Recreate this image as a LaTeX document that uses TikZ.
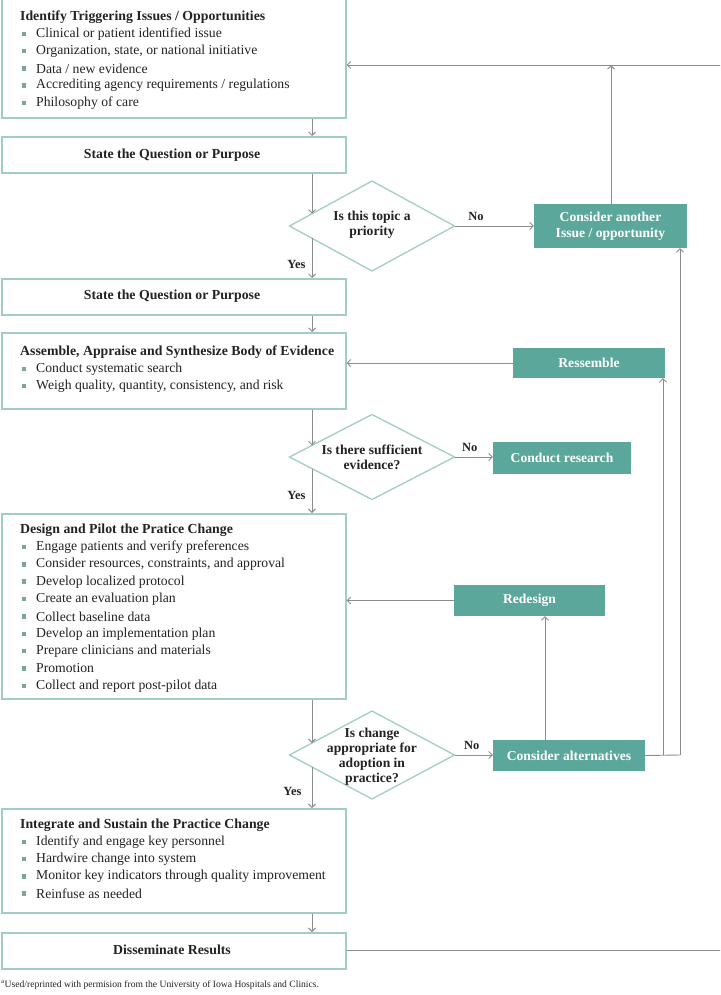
\documentclass[tikz,border=0pt]{standalone}
\usepackage{fontspec}
\setmainfont{Liberation Serif}
\usetikzlibrary{arrows.meta,shapes.geometric}
\definecolor{tealf}{RGB}{92,167,155}
\definecolor{edgec}{RGB}{160,206,199}
\definecolor{connc}{RGB}{140,140,140}
\definecolor{bulc}{RGB}{125,165,155}
\definecolor{txtc}{RGB}{35,35,35}
\begin{document}
\begin{tikzpicture}[x=1pt,y=-1pt,
 wbox/.style={draw=edgec, line width=1.6pt, fill=white},
 tbox/.style={fill=tealf, text=white, font=\fontsize{13.6}{15.5}\selectfont\bfseries, align=center, inner sep=0pt},
 dia/.style={draw=edgec, line width=1.3pt, fill=white},
 dtext/.style={font=\fontsize{13.6}{15}\selectfont\bfseries, text=txtc, align=center, inner sep=0pt},
 ttl/.style={anchor=west, font=\fontsize{13.8}{15}\selectfont\bfseries, text=txtc, inner sep=0pt},
 ctl/.style={font=\fontsize{13.8}{15}\selectfont\bfseries, text=txtc, inner sep=0pt},
 itm/.style={anchor=west, font=\fontsize{13.7}{15}\selectfont, text=txtc, inner sep=0pt},
 bul/.style={fill=bulc, minimum size=4.5pt, inner sep=0pt},
 arr/.style={draw=connc, line width=0.9pt, -{Straight Barb[length=3.5pt,width=7pt]}},
 ln/.style={draw=connc, line width=0.9pt},
 lab/.style={font=\fontsize{12.5}{14}\selectfont\bfseries, text=txtc, inner sep=0pt}
]
\path[use as bounding box] (0,0) rectangle (720,995);
\clip (0,0) rectangle (720,995);

% ---------- white boxes ----------
\node[wbox, minimum width=344pt, minimum height=127pt, anchor=north west] (b1) at (1,-10) {};
\node[wbox, minimum width=344pt, minimum height=36pt, anchor=north west] (s1) at (1,136) {};
\node[wbox, minimum width=344pt, minimum height=36pt, anchor=north west] (s2) at (1,278) {};
\node[wbox, minimum width=344pt, minimum height=76pt, anchor=north west] (as) at (1,332) {};
\node[wbox, minimum width=344pt, minimum height=185pt, anchor=north west] (ds) at (1,513) {};
\node[wbox, minimum width=344pt, minimum height=104pt, anchor=north west] (ig) at (1,808) {};
\node[wbox, minimum width=344pt, minimum height=36pt, anchor=north west] (dr) at (1,932) {};

% ---------- box texts ----------
\node[ttl] (b1t) at (20,17) {Identify Triggering Issues / Opportunities};
\foreach \t [count=\i] in {Clinical or patient identified issue,{Organization, state, or national initiative},Data / new evidence,Accrediting agency requirements / regulations,Philosophy of care}{
  \node[bul] (b1b\i) at (24,{34+17.2*(\i-1)}) {};
  \node[itm] (b1i\i) at (36,{34+17.2*(\i-1)}) {\t};
}
\node[ctl] (s1t) at (172,155) {State the Question or Purpose};
\node[ctl] (s2t) at (172,296) {State the Question or Purpose};

\node[ttl] (ast) at (20,352) {Assemble, Appraise and Synthesize Body of Evidence};
\foreach \t [count=\i] in {Conduct systematic search,{Weigh quality, quantity, consistency, and risk}}{
  \node[bul] (asb\i) at (24,{369+17.2*(\i-1)}) {};
  \node[itm] (asi\i) at (36,{369+17.2*(\i-1)}) {\t};
}

\node[ttl] (dst) at (20,530) {Design and Pilot the Pratice Change};
\foreach \t [count=\i] in {Engage patients and verify preferences,{Consider resources, constraints, and approval},Develop localized protocol,Create an evaluation plan,Collect baseline data,Develop an implementation plan,Prepare clinicians and materials,Promotion,Collect and report post-pilot data}{
  \node[bul] (dsb\i) at (24,{547+17.35*(\i-1)}) {};
  \node[itm] (dsi\i) at (36,{547+17.35*(\i-1)}) {\t};
}

\node[ttl] (igt) at (20,825) {Integrate and Sustain the Practice Change};
\foreach \t [count=\i] in {Identify and engage key personnel,Hardwire change into system,Monitor key indicators through quality improvement,Reinfuse as needed}{
  \node[bul] (igb\i) at (24,{842+17.2*(\i-1)}) {};
  \node[itm] (igi\i) at (36,{842+17.2*(\i-1)}) {\t};
}
\node[ctl] (drt) at (172,950) {Disseminate Results};

% ---------- diamonds ----------
\draw[dia] (289.5,226) -- (372,181) -- (454.5,226) -- (372,271) -- cycle;
\node[dtext] (d1) at (372,225) {Is this topic a\\priority};
\draw[dia] (289.5,457) -- (372,414.5) -- (454.5,457) -- (372,499.5) -- cycle;
\node[dtext] (d2) at (372,457) {Is there sufficient\\evidence?};
\draw[dia] (289.5,755) -- (372,711) -- (454.5,755) -- (372,799) -- cycle;
\node[dtext] (d3) at (372,757) {Is change\\appropriate for\\adoption in\\practice?};

\coordinate (d1n) at (312,213.7); \coordinate (d1s) at (312,238.3);
\coordinate (d1e) at (454.5,226);
\coordinate (d2n) at (312,445.4); \coordinate (d2s) at (312,468.6);
\coordinate (d2e) at (454.5,457);
\coordinate (d3n) at (312,743); \coordinate (d3s) at (312,767);
\coordinate (d3e) at (454.5,755);

% ---------- teal boxes ----------
\node[tbox, minimum width=153pt, minimum height=44pt] (ca) at (610.5,226) {Consider another\\Issue / opportunity};
\node[tbox, minimum width=152pt, minimum height=30pt] (rs) at (589,363) {Ressemble};
\node[tbox, minimum width=138pt, minimum height=32pt] (cr) at (562,458) {Conduct research};
\node[tbox, minimum width=151pt, minimum height=31pt] (rd) at (529.5,600.5) {Redesign};
\node[tbox, minimum width=152pt, minimum height=31pt] (cal) at (569,755.5) {Consider alternatives};

% ---------- main spine ----------
\draw[arr] (b1.south -| d1n) -- (s1.north -| d1n);
\draw[arr] (s1.south -| d1n) -- (d1n);
\draw[arr] (d1s) -- (s2.north -| d1s) node[lab, pos=0.65, left=6pt] (y1) {Yes};
\draw[arr] (s2.south -| d1n) -- (as.north -| d1n);
\draw[arr] (as.south -| d2n) -- (d2n);
\draw[arr] (d2s) -- (ds.north -| d2s) node[lab, pos=0.6, left=6pt] (y2) {Yes};
\draw[arr] (ds.south -| d3n) -- (d3n);
\draw[arr] (d3s) -- (ig.north -| d3s) node[lab, pos=0.6, left=10pt] (y3) {Yes};
\draw[arr] (ig.south -| d3n) -- (dr.north -| d3n);

% ---------- No branches ----------
\draw[arr] (d1e) -- (d1e -| ca.west) node[lab, pos=0.27, above=5pt] (n1) {No};
\draw[arr] (d2e) -- (d2e -| cr.west) node[lab, pos=0.4, above=5pt] (n2) {No};
\draw[arr] (d3e) -- (d3e -| cal.west) node[lab, pos=0.45, above=5pt] (n3) {No};

% ---------- feedback loops ----------
\coordinate (topl) at (611,65);
\coordinate (farR) at (735,65);
\draw[arr] (ca.north -| topl) -- (topl);
\draw[arr] (dr.east) -- (dr.east -| farR) -- (farR) -- (farR -| b1.east);
\draw[arr] (rs.west) -- (rs.west -| as.east);
\draw[arr] (rd.west) -- (rd.west -| ds.east);
\draw[arr] (cal.north -| 545,0) -- (rd.south -| 545,0);
\coordinate (r1) at (663,755);
\coordinate (r2) at (680,755);
\draw[ln] (cal.east) -- (r2);
\draw[arr] (r1) -- (rs.south -| r1);
\draw[arr] (r2) -- (ca.south -| r2);

% ---------- footnote ----------
\node[anchor=west, font=\fontsize{9.6}{10}\selectfont, text=txtc, inner sep=0pt] (fn) at (1,985) {\textsuperscript{a}Used/reprinted with permision from the University of Iowa Hospitals and Clinics.};
\end{tikzpicture}
\end{document}
